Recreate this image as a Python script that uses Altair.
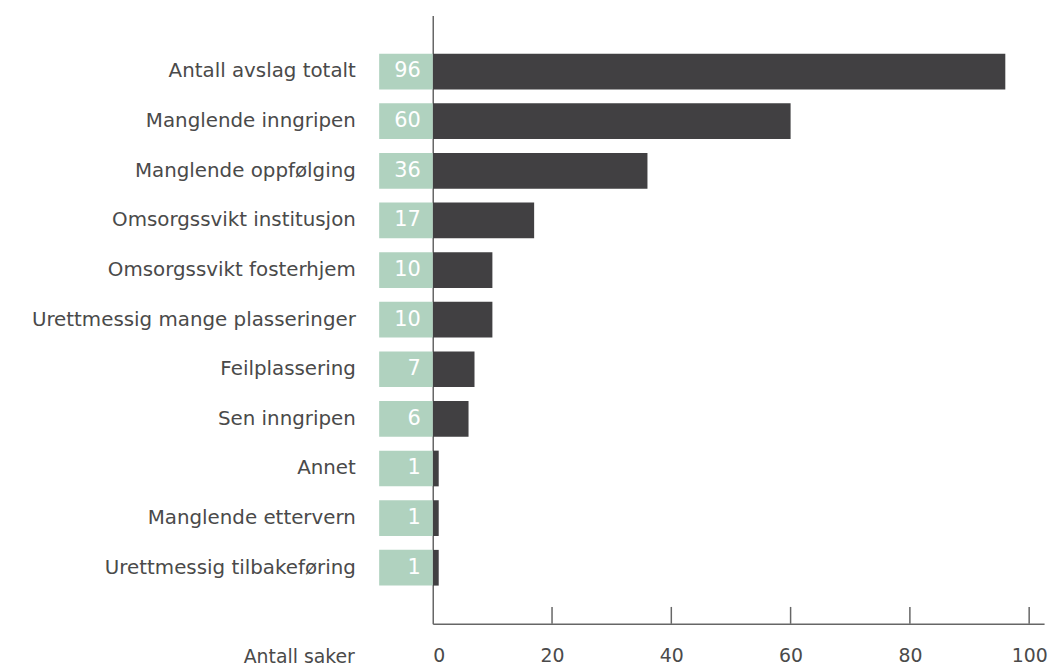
import altair as alt
import pandas as pd

categories = [
    "Antall avslag totalt",
    "Manglende inngripen",
    "Manglende oppfølging",
    "Omsorgssvikt institusjon",
    "Omsorgssvikt fosterhjem",
    "Urettmessig mange plasseringer",
    "Feilplassering",
    "Sen inngripen",
    "Annet",
    "Manglende ettervern",
    "Urettmessig tilbakeføring",
]
values = [96, 60, 36, 17, 10, 10, 7, 6, 1, 1, 1]
tick_values = [0, 20, 40, 60, 80, 100]

df = pd.DataFrame({"kategori": categories, "antall": values})
ticks_df = pd.DataFrame({"t": tick_values[1:]})

FONT = "DejaVu Sans"
W = 616
H = 613

xscale = alt.Scale(domain=[0, 102.5], nice=False, zero=True)
yscale = alt.Scale(domain=categories, paddingInner=0.28, paddingOuter=0.77)

yaxis = alt.Axis(
    title=None,
    domain=True,
    domainColor="#666666",
    domainWidth=1.5,
    ticks=False,
    grid=False,
    labelPadding=78,
    labelFontSize=20,
    labelFont=FONT,
    labelColor="#4a4a4a",
    labelLimit=420,
)
xaxis = alt.Axis(
    values=tick_values,
    title="Antall saker",
    titleFont=FONT,
    titleFontSize=19,
    titleFontWeight="normal",
    titleColor="#4a4a4a",
    titleAlign="right",
    titleBaseline="middle",
    titleAnchor="start",
    titleX=-79,
    titleY=33,
    labelFont=FONT,
    labelFontSize=19,
    labelColor="#4a4a4a",
    labelPadding=23,
    ticks=False,
    grid=False,
    domainColor="#666666",
    domainWidth=1.5,
)

yenc = alt.Y("kategori:N", sort=categories, scale=yscale, axis=yaxis)

bars = alt.Chart(df).mark_bar(color="#414042").encode(
    x=alt.X("antall:Q", scale=xscale, axis=xaxis),
    y=yenc,
)

boxes = alt.Chart(df).mark_bar(color="#b0d2bf").encode(
    x=alt.value(-54),
    x2=alt.value(0),
    y=yenc,
)

labels = alt.Chart(df).mark_text(
    align="right", baseline="middle", color="white", font=FONT, fontSize=21
).encode(
    x=alt.value(-12),
    y=yenc,
    text="antall:Q",
)

tick_marks = alt.Chart(ticks_df).mark_rule(color="#666666", strokeWidth=1.5).encode(
    x=alt.X("t:Q", scale=xscale, axis=xaxis),
    y=alt.value(H - 17),
    y2=alt.value(H),
)

chart = (
    alt.layer(bars, boxes, labels, tick_marks)
    .properties(
        width=W,
        height=H,
        background="white",
        autosize=alt.AutoSizeParams(type="none"),
        padding={"top": 5, "left": 428, "right": 10, "bottom": 40},
    )
    .configure_view(stroke="transparent", strokeWidth=0)
)

chart.save("out.html", embed_options={"renderer": "svg", "actions": False})
